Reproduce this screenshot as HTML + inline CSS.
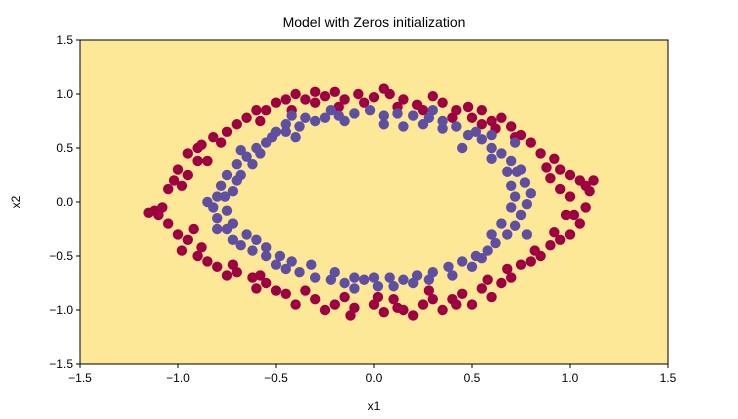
<!DOCTYPE html>
<html><head><meta charset="utf-8"><style>
body{margin:0;background:#fff;}
svg{display:block;font-family:"Liberation Sans","DejaVu Sans",sans-serif;}
</style></head><body>
<svg id="chart" width="738" height="419">
<text x="374" y="27" text-anchor="middle" font-size="14" fill="#000">Model with Zeros initialization</text>
<rect x="80" y="40" width="588" height="324" fill="#fde898"/>
<g id="pts"></g>
<rect x="80" y="40" width="588" height="324" fill="none" stroke="#000" stroke-width="1"/>
<g id="axes"></g>
<text x="374" y="410" text-anchor="middle" font-size="12">x1</text>
<text x="20" y="202" text-anchor="middle" font-size="12" transform="rotate(-90 20 202)">x2</text>
</svg>
<script>
const xTicks=[-1.5,-1.0,-0.5,0.0,0.5,1.0,1.5];
const yTicks=[-1.5,-1.0,-0.5,0.0,0.5,1.0,1.5];
const redX=[-0.4,-0.45,-0.55,-0.65,-0.7,-0.75,-0.82,-0.88,-0.9,-0.95,-1.0,-0.9,-1.02,-0.95,-1.05,-1.12,-1.1,-1.08,-1.05,-1.0,-0.95,-0.98,-0.9,-0.85,-0.8,-0.75,-0.7,-0.62,-0.55,-0.6,-0.45,-0.4,-0.3,-0.25,-0.2,-0.12,-0.1,0.0,0.05,0.1,0.15,0.2,0.25,0.3,0.35,0.4,0.45,0.5,0.55,0.6,0.65,0.7,0.75,0.8,0.85,0.9,0.95,1.0,1.05,1.08,1.1,1.05,1.0,1.08,0.95,0.92,0.85,0.8,0.75,0.7,0.65,0.6,0.55,0.48,0.42,0.35,0.3,0.22,0.15,0.08,0.0,-0.08,-0.15,-0.2,-0.25,-0.3,-0.5,-0.6,1.02,0.95,
-0.35,-0.42,-0.58,-0.78,-0.85,-0.98,-0.92,-0.88,-0.72,-0.58,-0.5,-0.35,-0.15,0.02,0.12,0.28,0.42,0.58,0.68,0.82,0.92,0.98,1.0,0.9,0.88,0.72,0.62,0.5,0.4,0.25,0.12,-0.05,-0.18,0.05,-0.3,0.55,-1.15,1.12];
const redY=[1.0,0.95,0.85,0.78,0.72,0.65,0.6,0.53,0.5,0.45,0.3,0.38,0.2,0.25,0.12,-0.08,-0.12,-0.05,-0.2,-0.3,-0.35,-0.45,-0.5,-0.55,-0.6,-0.68,-0.65,-0.7,-0.75,-0.8,-0.85,-0.95,-0.9,-1.0,-0.95,-1.05,-0.98,-0.95,-1.02,-0.9,-1.0,-1.05,-0.95,-0.9,-1.0,-0.9,-0.85,-0.95,-0.8,-0.88,-0.75,-0.7,-0.58,-0.55,-0.5,-0.4,-0.35,-0.3,-0.2,-0.05,0.1,0.2,0.25,0.15,0.3,0.4,0.45,0.55,0.62,0.7,0.78,0.75,0.85,0.88,0.85,0.92,0.98,0.9,0.95,1.0,0.97,1.0,0.95,1.02,0.98,0.92,0.92,0.85,-0.12,0.12,
0.95,0.85,0.75,0.55,0.38,0.15,-0.25,-0.42,-0.58,-0.68,-0.82,-0.82,-0.88,-0.88,-0.98,-0.82,-0.95,-0.72,-0.62,-0.45,-0.28,-0.12,0.05,0.22,0.32,0.6,0.68,0.78,0.78,0.85,0.88,0.92,0.88,1.05,1.02,0.72,-0.1,0.2];
const blueX=[-0.35,-0.45,-0.5,-0.55,-0.6,-0.65,-0.7,-0.75,-0.78,-0.8,-0.82,-0.8,-0.75,-0.72,-0.68,-0.62,-0.55,-0.5,-0.45,-0.38,-0.3,-0.22,-0.15,-0.1,-0.05,0.02,0.08,0.15,0.22,0.3,0.38,0.45,0.52,0.58,0.62,0.68,0.72,0.75,0.78,0.8,0.77,0.73,0.7,0.65,0.6,0.55,0.48,0.42,0.35,0.28,0.2,0.12,0.05,-0.02,-0.1,-0.18,-0.25,-0.3,-0.42,-0.58,-0.68,-0.72,-0.65,-0.48,-0.2,0.1,0.4,0.65,0.7,0.6,0.15,-0.4,0.78,0.72,-0.85,
-0.38,-0.52,-0.62,-0.7,-0.76,-0.75,-0.72,-0.6,-0.55,-0.42,-0.32,-0.1,0.0,0.2,0.28,0.5,0.55,0.6,0.7,0.72,0.75,0.68,0.6,0.52,0.35,0.25,0.05,-0.15,-0.22,0.3,0.45,-0.45,-0.68,-0.8];
const blueY=[0.78,0.72,0.65,0.55,0.5,0.42,0.35,0.25,0.15,0.05,-0.05,-0.15,-0.25,-0.35,-0.4,-0.45,-0.5,-0.58,-0.62,-0.65,-0.7,-0.72,-0.75,-0.8,-0.72,-0.78,-0.7,-0.72,-0.68,-0.65,-0.6,-0.55,-0.5,-0.45,-0.38,-0.3,-0.22,-0.12,-0.02,0.08,0.18,0.28,0.38,0.45,0.5,0.58,0.62,0.7,0.75,0.78,0.8,0.82,0.8,0.85,0.82,0.8,0.78,0.75,0.8,0.45,0.25,0.1,-0.3,-0.5,-0.65,-0.78,-0.68,-0.2,0.15,0.62,0.7,0.6,-0.3,0.55,0.0,
0.7,0.6,0.35,0.2,0.05,-0.08,-0.2,-0.35,-0.42,-0.55,-0.58,-0.7,-0.7,-0.75,-0.72,-0.6,-0.52,-0.3,-0.05,0.05,0.3,0.28,0.4,0.65,0.68,0.72,0.72,0.75,0.85,0.85,0.5,0.65,0.48,-0.25];
const NS="http://www.w3.org/2000/svg";
const sx=v=>80+(v+1.5)*196;
const sy=v=>40+(1.5-v)*108;
const pts=document.getElementById('pts');
function dot(x,y,c,name){
  const e=document.createElementNS(NS,'circle');
  e.setAttribute('cx',sx(x));e.setAttribute('cy',sy(y));e.setAttribute('r',5.2);e.setAttribute('fill',c);
  
  
  pts.appendChild(e);
}
for(let i=0;i<redX.length;i++)dot(redX[i],redY[i],'#9e0142','point-class-red');
for(let i=0;i<blueX.length;i++)dot(blueX[i],blueY[i],'#5e4fa2','point-class-blue');
const ax=document.getElementById('axes');
xTicks.forEach(t=>{
  const l=document.createElementNS(NS,'line');
  l.setAttribute('x1',sx(t));l.setAttribute('x2',sx(t));l.setAttribute('y1',364);l.setAttribute('y2',368);l.setAttribute('stroke','#000');
  
  
  ax.appendChild(l);
  const s=document.createElementNS(NS,'text');
  s.setAttribute('x',sx(t));s.setAttribute('y',382);s.setAttribute('text-anchor','middle');s.setAttribute('font-size','12');
  s.textContent=(t<0?'\u2212':'')+Math.abs(t).toFixed(1);
  
  
  ax.appendChild(s);
});
yTicks.forEach(t=>{
  const l=document.createElementNS(NS,'line');
  l.setAttribute('x1',76);l.setAttribute('x2',80);l.setAttribute('y1',sy(t));l.setAttribute('y2',sy(t));l.setAttribute('stroke','#000');
  
  
  ax.appendChild(l);
  const s=document.createElementNS(NS,'text');
  s.setAttribute('x',73);s.setAttribute('y',sy(t)+4);s.setAttribute('text-anchor','end');s.setAttribute('font-size','12');
  s.textContent=(t<0?'\u2212':'')+Math.abs(t).toFixed(1);
  
  
  ax.appendChild(s);
});
</script>
</body></html>
